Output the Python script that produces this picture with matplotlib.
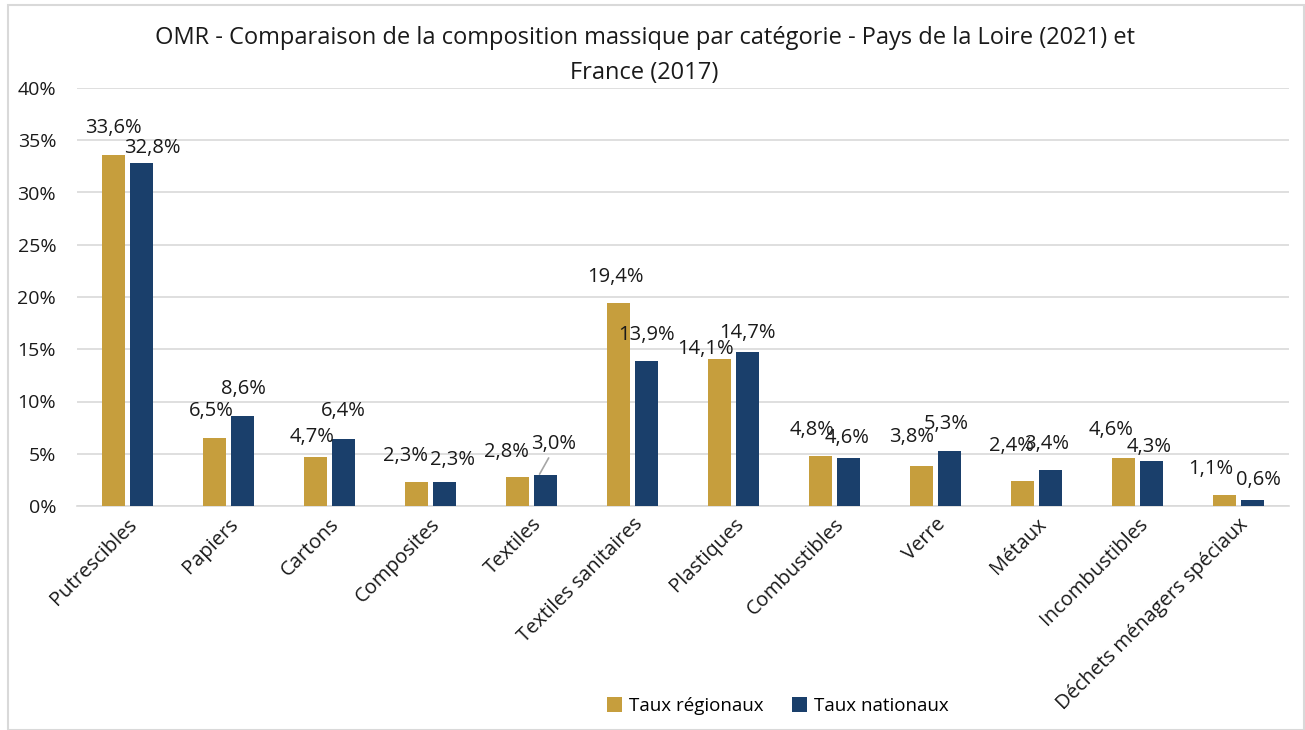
import numpy as np
import matplotlib.pyplot as plt
from matplotlib.patches import Rectangle

plt.rcParams['font.family'] = ['Open Sans', 'DejaVu Sans']

# données
categories = ['Putrescibles', 'Papiers', 'Cartons', 'Composites', 'Textiles',
              'Textiles sanitaires', 'Plastiques', 'Combustibles', 'Verre',
              'Métaux', 'Incombustibles', 'Déchets ménagers spéciaux']
taux_regionaux = [33.6, 6.5, 4.7, 2.3, 2.8, 19.4, 14.1, 4.8, 3.8, 2.4, 4.6, 1.1]
taux_nationaux = [32.8, 8.6, 6.4, 2.3, 3.0, 13.9, 14.7, 4.6, 5.3, 3.4, 4.3, 0.6]
yticks = [0, 5, 10, 15, 20, 25, 30, 35, 40]

# décalages des étiquettes (pixels), comme dans l'original Excel
off_reg = [(0, 27), (-3, 27), (-3, 20), (-11, 26), (-11, 25), (-3, 26),
           (-14, 10), (-8, 26), (-10, 29), (-11, 35), (-12, 28), (-14, 26)]
off_nat = [(11, 15), (1, 27), (0, 28), (8, 22), (8, 31), (0, 26),
           (0, 19), (-2, 20), (-3, 27), (-4, 26), (-3, 14), (6, 20)]

gold = '#C69E3D'
navy = '#1A3F6B'

fig = plt.figure(figsize=(13.05, 7.3), dpi=100)
ax = fig.add_axes([77/1305, 1-506/730, 1212/1305, 418/730])

x = np.arange(len(categories))
w = 0.23
b1 = ax.bar(x - 0.14, taux_regionaux, w, color=gold, label='Taux régionaux', zorder=3)
b2 = ax.bar(x + 0.14, taux_nationaux, w, color=navy, label='Taux nationaux', zorder=3)

def fmt(v):
    return f'{v:.1f}%'.replace('.', ',')

for bars, vals, offs in [(b1, taux_regionaux, off_reg), (b2, taux_nationaux, off_nat)]:
    for r, v, (dx, dy) in zip(bars, vals, offs):
        ax.annotate(fmt(v), (r.get_x() + r.get_width()/2, v),
                    xytext=(dx, dy), textcoords='offset pixels',
                    ha='center', va='center', fontsize=14.5, color='#1a1a1a', zorder=4)

# ligne de rappel pour Textiles
r = b2[4]
xx = r.get_x() + r.get_width()/2
ax.annotate('', xy=(xx - 0.06, taux_nationaux[4] + 0.05), xytext=(xx + 0.03, taux_nationaux[4] + 1.6),
            arrowprops=dict(arrowstyle='-', color='#a6a6a6', lw=1.2, shrinkA=0, shrinkB=0), zorder=4)

ax.set_xlim(-0.5, len(categories) - 0.5)
ax.set_ylim(0, 40)
ax.set_yticks(yticks)
ax.set_yticklabels([f'{t}%' for t in yticks], fontsize=14, color='#1a1a1a')
ax.set_xticks(x)
ax.set_xticklabels(categories, rotation=45, ha='right', rotation_mode='anchor',
                   fontsize=14.5, color='#1a1a1a')
ax.tick_params(axis='both', length=0)
ax.tick_params(axis='y', pad=15)
ax.tick_params(axis='x', pad=6)
ax.grid(axis='y', color='#d9d9d9', lw=1.2, zorder=0)
for s in ['top', 'right', 'left']:
    ax.spines[s].set_visible(False)
ax.spines['bottom'].set_color('#d9d9d9')
ax.spines['bottom'].set_linewidth(1.2)

fig.text(0.494, 1-38/730, 'OMR - Comparaison de la composition massique par catégorie - Pays de la Loire (2021) et',
         ha='center', va='center', fontsize=17, color='#1a1a1a')
fig.text(0.494, 1-73/730, 'France (2017)', ha='center', va='center', fontsize=17, color='#1a1a1a')

fig.legend(loc='center', bbox_to_anchor=(0.596, 1-706/730), ncol=2, frameon=False,
           fontsize=13.5, handlelength=0.8, handleheight=0.8, columnspacing=1.5, handletextpad=0.4)

fig.patches.append(Rectangle((8/1305, 0), 1 - 9/1305, 1 - 5/730, transform=fig.transFigure,
                             fill=False, edgecolor='#d9d9d9', lw=1.5))

plt.savefig('out.png', dpi=100)
